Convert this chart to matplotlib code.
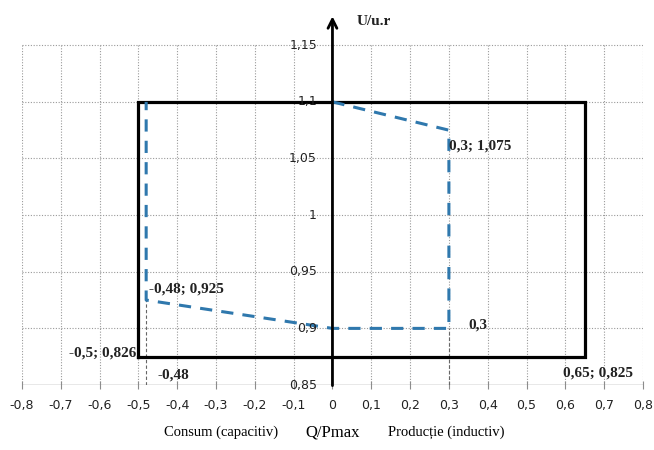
#Reactive power capability diagram U = f(Q/Pmax)

import matplotlib.pyplot as plt

# x axis (Q/Pmax) and y axis (U/u.r) ticks
q_ticks = [-0.8, -0.7, -0.6, -0.5, -0.4, -0.3, -0.2, -0.1, 0, 0.1, 0.2, 0.3, 0.4, 0.5, 0.6, 0.7, 0.8]
u_ticks = [0.85, 0.9, 0.95, 1.0, 1.05, 1.1, 1.15]

# operating limit rectangle (corners)
rect_q = [-0.5, 0.65, 0.65, -0.5, -0.5]
rect_u = [0.875, 0.875, 1.1, 1.1, 0.875]

# required capability curve
curve_q = [0, 0.3, 0.3, 0, -0.48, -0.48]
curve_u = [1.1, 1.075, 0.9, 0.9, 0.925, 1.1]

# drop lines down to the Q axis
drop_q = [-0.48, 0.3]
drop_u = [0.925, 0.9]

def comma(v):
  s = ("%g" % v).replace(".", ",")
  return s

fig = plt.figure(figsize=(6.54, 4.5), dpi=100)
ax = fig.add_axes([0.0336, 0.1444, 0.9495, 0.818])
ax.set_xlim(-0.8, 0.8)
ax.set_ylim(0.85, 1.175)
for s in ax.spines.values():
  s.set_visible(False)
ax.set_yticks([])

#dotted grid
grid_kw = dict(color="#9a9a9a", linestyle=(0, (1, 1.5)), linewidth=0.8, zorder=1)
ax.vlines(q_ticks, u_ticks[0], u_ticks[-1], **grid_kw)
ax.hlines(u_ticks[1:], q_ticks[0], q_ticks[-1], **grid_kw)

#Q axis at the bottom
ax.axhline(u_ticks[0], color="#8c8c8c", linewidth=1, zorder=2)
ax.set_xticks(q_ticks)
ax.set_xticklabels([comma(q) for q in q_ticks], fontsize=9, color="#222222")
ax.tick_params(axis="x", direction="inout", length=6, color="#8c8c8c", pad=7)

#drop lines
ax.vlines(drop_q, u_ticks[0], drop_u, color="#666666", linestyle=(0, (3, 2)), linewidth=0.8, zorder=2)

#rectangle and curve
ax.plot(rect_q, rect_u, color="black", linewidth=2.3, zorder=3, solid_joinstyle="miter")
ax.plot(curve_q, curve_u, color="#2f78ad", linewidth=2.2, linestyle=(0, (4, 3)), zorder=4)

#U axis arrow
ax.annotate("", xy=(0, 1.178), xytext=(0, 0.847),
            arrowprops=dict(arrowstyle="->", color="black", linewidth=2, mutation_scale=16),
            annotation_clip=False, zorder=5)
for u in u_ticks:
  ax.text(-0.04, u, comma(u), ha="right", va="center", fontsize=9, color="#222222", zorder=6)

#point labels
bold = dict(fontsize=11, fontweight="bold", family="Liberation Serif", color="#222222", zorder=6)
ax.text(0.062, 1.171, "U/u.r", ha="left", va="center", **bold)
ax.text(0.30, 1.061, "0,3; 1,075", ha="left", va="center", **bold)
ax.text(-0.472, 0.935, "-0,48; 0,925", ha="left", va="center", **bold)
ax.text(0.349, 0.903, "0,3", ha="left", va="center", **bold)
ax.text(-0.505, 0.878, "-0,5; 0,826", ha="right", va="center", **bold)
ax.text(-0.451, 0.859, "-0,48", ha="left", va="center", **bold)
ax.text(0.595, 0.8606, "0,65; 0,825", ha="left", va="center", **bold)

#axis captions
ax.text(-0.287, 0.808, "Consum (capacitiv)", ha="center", va="center", fontsize=10.5,
        family="Liberation Serif", clip_on=False)
ax.text(0.0, 0.808, "Q/Pmax", ha="center", va="center", fontsize=12,
        family="Liberation Serif", clip_on=False)
ax.text(0.292, 0.808, "Producție (inductiv)", ha="center", va="center", fontsize=10.5,
        family="Liberation Serif", clip_on=False)

fig.savefig("out.png", dpi=100)
